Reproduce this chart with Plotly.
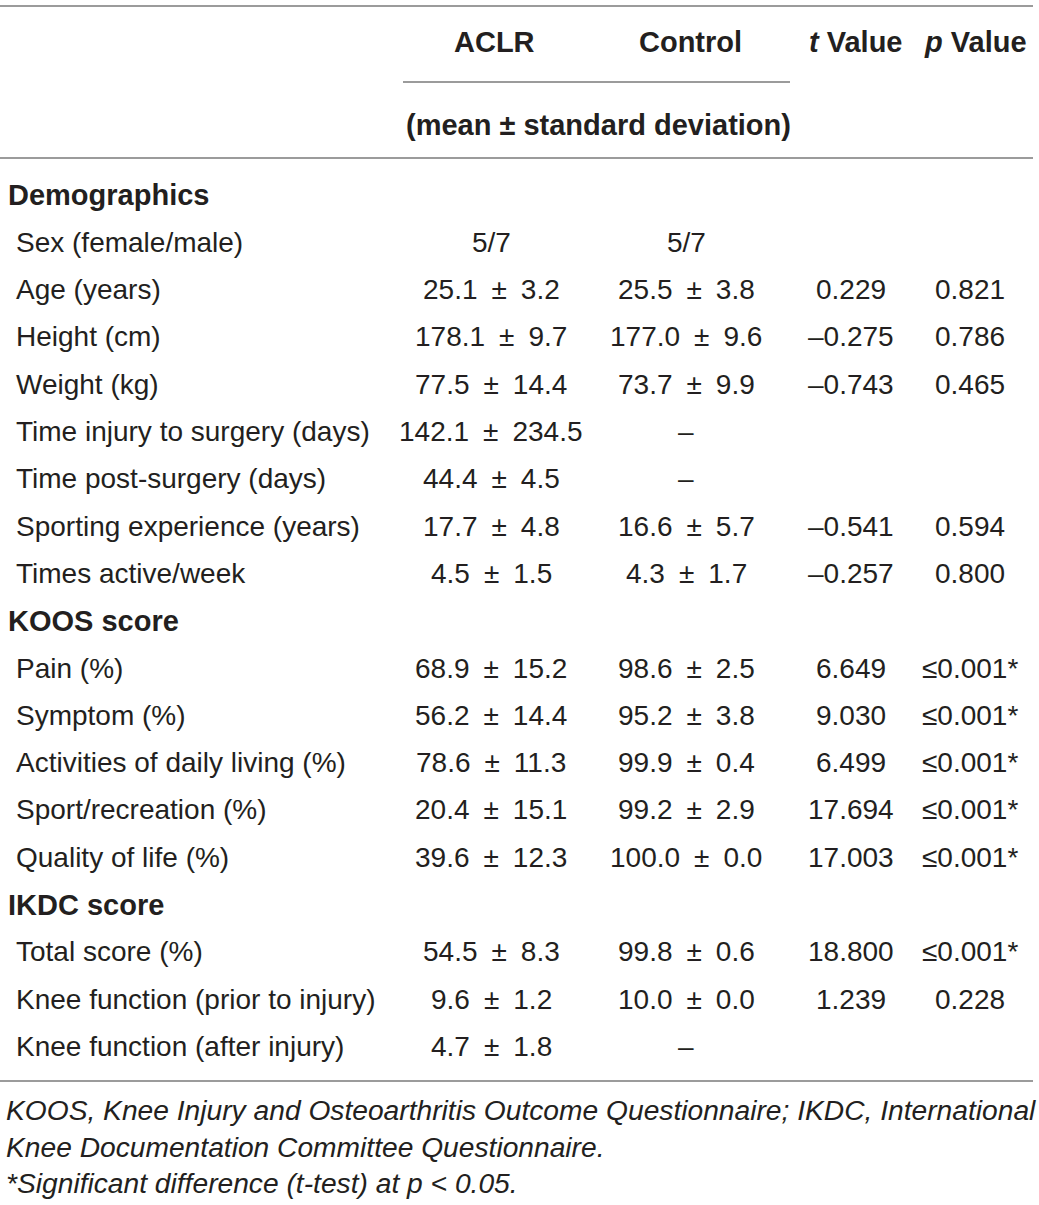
import plotly.graph_objects as go

W, H = 1039, 1205

# ---- data ----
sections = ["Demographics", "KOOS score", "IKDC score"]
section_rows = [
    ["Sex (female/male)", "Age (years)", "Height (cm)", "Weight (kg)",
     "Time injury to surgery (days)", "Time post-surgery (days)",
     "Sporting experience (years)", "Times active/week"],
    ["Pain (%)", "Symptom (%)", "Activities of daily living (%)",
     "Sport/recreation (%)", "Quality of life (%)"],
    ["Total score (%)", "Knee function (prior to injury)",
     "Knee function (after injury)"],
]
aclr = ["5/7", "25.1 ± 3.2", "178.1 ± 9.7", "77.5 ± 14.4", "142.1 ± 234.5",
        "44.4 ± 4.5", "17.7 ± 4.8", "4.5 ± 1.5",
        "68.9 ± 15.2", "56.2 ± 14.4", "78.6 ± 11.3", "20.4 ± 15.1", "39.6 ± 12.3",
        "54.5 ± 8.3", "9.6 ± 1.2", "4.7 ± 1.8"]
control = ["5/7", "25.5 ± 3.8", "177.0 ± 9.6", "73.7 ± 9.9", "–", "–",
           "16.6 ± 5.7", "4.3 ± 1.7",
           "98.6 ± 2.5", "95.2 ± 3.8", "99.9 ± 0.4", "99.2 ± 2.9", "100.0 ± 0.0",
           "99.8 ± 0.6", "10.0 ± 0.0", "–"]
t_values = ["", "0.229", "–0.275", "–0.743", "", "", "–0.541", "–0.257",
            "6.649", "9.030", "6.499", "17.694", "17.003",
            "18.800", "1.239", ""]
p_values = ["", "0.821", "0.786", "0.465", "", "", "0.594", "0.800",
            "≤0.001*", "≤0.001*", "≤0.001*", "≤0.001*", "≤0.001*",
            "≤0.001*", "0.228", ""]
headers = ["ACLR", "Control", "<i>t</i> Value", "<i>p</i> Value"]
subheader = "(mean ± standard deviation)"
footnotes = [
    "KOOS, Knee Injury and Osteoarthritis Outcome Questionnaire; IKDC, International",
    "Knee Documentation Committee Questionnaire.",
    "*Significant difference (t-test) at <i>p</i> &lt; 0.05.",
]

# ---- layout constants ----
TXT = "#231f20"
LINE = "#7a7a7a"
FONT = "Liberation Sans, Arial, sans-serif"
FS = 28
FS_B = 29
col_x = [491, 686, 851, 970]
head_x = [494, 690, 856, 975]
label_x_section = 6
label_x_row = 14
y0 = 195
pitch = 47.3
EN = "\u2002"

def pm(s):
    return s.replace(" ± ", EN + "±" + EN)

fig = go.Figure()
ann = []
shapes = []

def add_text(x, y, text, anchor="center", bold=False, italic=False, size=FS, color=TXT):
    t = text
    if bold:
        t = "<b>" + t + "</b>"
    if italic:
        t = "<i>" + t + "</i>"
    ann.append(dict(x=x, y=y, xref="x", yref="y", text=t, showarrow=False,
                    xanchor=anchor, yanchor="middle",
                    font=dict(family=FONT, size=size, color=color)))

def hline(x0, x1, y):
    shapes.append(dict(type="line", xref="x", yref="y", x0=x0, x1=x1, y0=y, y1=y,
                       line=dict(color=LINE, width=1.3)))

# header
hline(0, 1033, 6)
for cx, h in zip(head_x, headers):
    add_text(cx, 42, h, bold=True, size=FS_B)
hline(403, 790, 82)
add_text(598, 125, subheader, bold=True, size=FS_B)
hline(0, 1033, 158)

# body
r = 0
k = 0
for sec, rows in zip(sections, section_rows):
    add_text(label_x_section, y0 + r * pitch, sec, anchor="left", bold=True, size=FS_B)
    r += 1
    for lab in rows:
        y = y0 + r * pitch
        add_text(label_x_row, y, lab, anchor="left")
        for cx, vals in zip(col_x, [aclr, control, t_values, p_values]):
            if vals[k]:
                add_text(cx, y, pm(vals[k]))
        r += 1
        k += 1

hline(0, 1033, 1081)

for i, fn in enumerate(footnotes):
    add_text(4, 1110 + i * 36.5, fn, anchor="left", italic=True, size=28.2)

# invisible trace so axes exist
fig.add_trace(go.Scatter(x=[0, W], y=[0, H], mode="markers",
                         marker=dict(opacity=0), hoverinfo="skip", showlegend=False))

fig.update_layout(
    width=W, height=H,
    margin=dict(l=0, r=0, t=0, b=0),
    paper_bgcolor="white", plot_bgcolor="white",
    xaxis=dict(range=[0, W], visible=False, fixedrange=True),
    yaxis=dict(range=[H, 0], visible=False, fixedrange=True),
    annotations=ann, shapes=shapes,
)

fig.write_html("out.html",
               config={"displayModeBar": False, "staticPlot": True},
               post_script="document.body.style.margin='0';document.body.style.overflow='hidden';")
